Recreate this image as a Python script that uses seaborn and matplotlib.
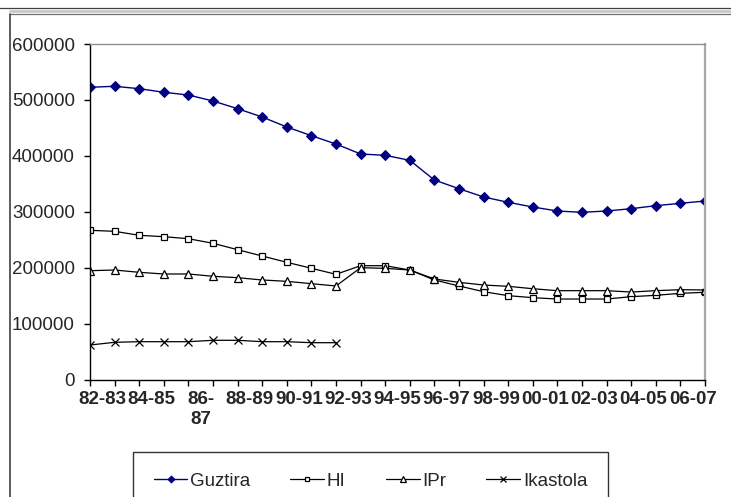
import matplotlib
matplotlib.use("Agg")
import matplotlib.pyplot as plt
from matplotlib.lines import Line2D
import seaborn as sns
import pandas as pd

years = ["82-83", "83-84", "84-85", "85-86", "86-87", "87-88", "88-89", "89-90",
         "90-91", "91-92", "92-93", "93-94", "94-95", "95-96", "96-97", "97-98",
         "98-99", "99-00", "00-01", "01-02", "02-03", "03-04", "04-05", "05-06",
         "06-07", "07-08"]
guztira = [522700, 524500, 520200, 513800, 508900, 498200, 484500, 469600, 451800,
           436300, 421400, 403600, 401200, 392300, 357100, 341600, 326800, 317300,
           308900, 301800, 299400, 301800, 305900, 311300, 315500, 319600]
hi = [267300, 265500, 258400, 255900, 252300, 244100, 232700, 221400, 210200,
      199500, 188700, 204100, 204100, 196400, 178600, 167900, 157700, 150600,
      147000, 144600, 144600, 144600, 148800, 151200, 154800, 156600]
ipr = [195200, 196400, 192300, 189300, 189300, 185200, 182700, 178600, 176200,
       172000, 167900, 200500, 199400, 196400, 180400, 174400, 169600, 167300,
       163000, 159500, 159500, 159500, 157100, 159500, 161300, 160700]
ikastola = [62500, 67300, 68400, 68400, 68400, 70900, 70900, 68400, 68400, 66600, 66600]

sns.set_theme(style="white")
plt.rcParams['font.family'] = ['Liberation Sans', 'DejaVu Sans']
plt.rcParams['font.size'] = 13.5
plt.rcParams['xtick.labelsize'] = 13.5
plt.rcParams['ytick.labelsize'] = 13.5

W, H = 731, 497
fig = plt.figure(figsize=(W / 100, H / 100), dpi=100)
ax = fig.add_axes([90 / W, 1 - 380 / H, (705 - 90) / W, (380 - 44) / H])

df = pd.DataFrame({"idx": range(len(years)), "Guztira": guztira, "HI": hi, "IPr": ipr})
df_ik = pd.DataFrame({"idx": range(len(ikastola)), "Ikastola": ikastola})

sns.lineplot(data=df, x="idx", y="Guztira", ax=ax, color="#000080", lw=1,
             marker="D", ms=5, mfc="#000080", mec="#000080", label="Guztira")
sns.lineplot(data=df, x="idx", y="HI", ax=ax, color="black", lw=0.9,
             marker="s", ms=5, mfc="white", mec="black", mew=0.9, label="HI")
sns.lineplot(data=df, x="idx", y="IPr", ax=ax, color="black", lw=0.9,
             marker="^", ms=6, mfc="white", mec="black", mew=0.9, label="IPr")
sns.lineplot(data=df_ik, x="idx", y="Ikastola", ax=ax, color="black", lw=0.9,
             marker="x", ms=5.5, mec="black", mew=0.9, label="Ikastola")

ax.set_xlim(0, len(years) - 1)
ax.set_ylim(0, 600000)
ax.set_yticks(range(0, 600001, 100000))
ax.set_xlabel("")
ax.set_ylabel("")

# ticks at each category, labels every second one, centred between ticks
ax.set_xticks(range(len(years)))
ax.set_xticklabels([])
ax.set_xticks([i + 0.5 for i in range(0, len(years), 2)], minor=True)
labs = [y if y != "86-87" else "86-\n87" for y in years[::2]]
ax.set_xticklabels(labs, minor=True)
ax.tick_params(axis="x", which="major", direction="out", length=4, width=1,
               color="black", bottom=True)
ax.tick_params(axis="x", which="minor", length=0, pad=8, labelsize=13.5)
ax.tick_params(axis="y", which="major", direction="out", length=4, width=1,
               color="black", left=True, pad=7, labelsize=13.5)
for t in ax.get_xticklabels(minor=True):
    t.set_fontweight("bold")

for s in ["left", "bottom"]:
    ax.spines[s].set_color("black")
    ax.spines[s].set_linewidth(1)
ax.spines["top"].set_color("#909090")
ax.spines["top"].set_linewidth(1)
ax.spines["right"].set_color("#a8a8a8")
ax.spines["right"].set_linewidth(1.6)

ax.legend_.remove()
handles, labels = ax.get_legend_handles_labels()
fig.legend(handles, labels, loc="upper left",
           bbox_to_anchor=(133 / W, 1 - 457 / H, (608 - 133) / W, 0.01),
           mode="expand", ncol=4, frameon=True, fancybox=False, edgecolor="black",
           fontsize=13.5, handlelength=1.8, handletextpad=0.15, borderpad=1.1,
           markerscale=0.7, borderaxespad=0)
fig.legends[0].get_frame().set_linewidth(1)

# outer chart frame
fig.add_artist(Line2D([0, 1], [1 - 8.3 / H] * 2, transform=fig.transFigure,
                      color="#404040", lw=0.9))
fig.add_artist(Line2D([9.5 / W, 1], [1 - 11 / H] * 2, transform=fig.transFigure,
                      color="#c8c8c8", lw=2))
fig.add_artist(Line2D([9.5 / W, 1], [1 - 14 / H] * 2, transform=fig.transFigure,
                      color="#707070", lw=0.9))
fig.add_artist(Line2D([9.5 / W] * 2, [0, 1 - 14 / H], transform=fig.transFigure,
                      color="#404040", lw=1.2))

fig.savefig("out.png", dpi=100)
